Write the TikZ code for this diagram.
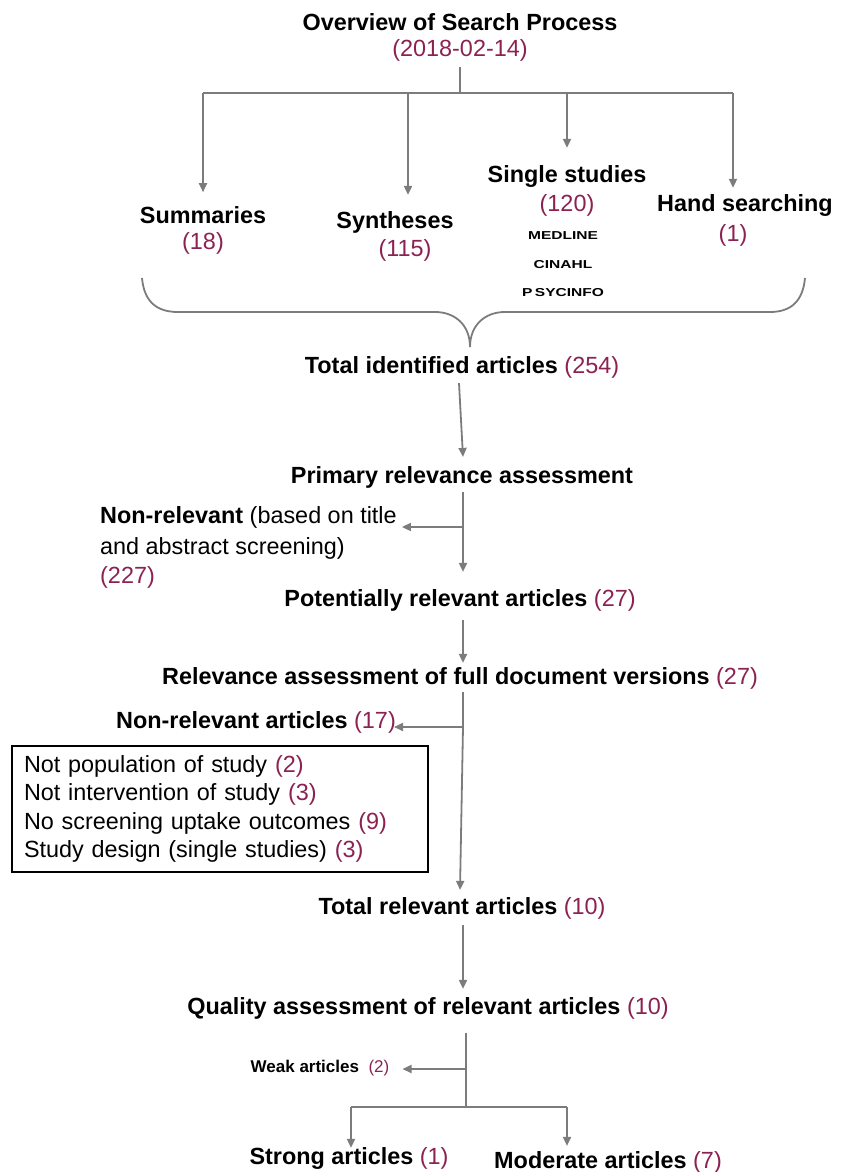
\documentclass[tikz,border=0pt]{standalone}
\usepackage{fontspec}
\setmainfont{Liberation Sans}
\usetikzlibrary{arrows.meta}
\definecolor{numc}{HTML}{8B2252}
\definecolor{lnc}{HTML}{7C7C7C}
\newcommand\nm[1]{\textcolor{numc}{\mdseries(#1)}}
\tikzset{
  hd/.style={inner sep=0pt, font=\fontsize{23.4}{28.5}\selectfont\bfseries},
  rg/.style={inner sep=0pt, font=\fontsize{23.4}{28.5}\selectfont},
  tiny/.style={inner sep=0pt, font=\fontsize{11.5}{13}\selectfont\bfseries},
  wk/.style={inner sep=0pt, font=\fontsize{17}{20}\selectfont\bfseries},
  conn/.style={draw=lnc, line width=1.8pt},
  arr/.style={conn, -{Triangle[length=9pt,width=8pt]}},
  ibox/.style={draw=black, line width=1.3pt, minimum width=416pt, minimum height=126pt,
     text width=392pt, align=left, inner xsep=12pt, inner ysep=0pt,
     font=\fontsize{23.4}{28.5}\selectfont},
}
\begin{document}
\begin{tikzpicture}[x=1pt,y=-1pt]
\useasboundingbox (0,0) rectangle (843,1172);

% top
\node[hd] (ov) at (460,22) {Overview of Search Process};
\node[hd] (date) at (460,50) {\nm{2018-02-14}};
\coordinate (hub) at (460,93);
\coordinate (h1) at (203,93);
\coordinate (h2) at (408,93);
\coordinate (h3) at (567,93);
\coordinate (h4) at (733,93);
\draw[conn] (date.south) ++(0,6) coordinate (dtop) (dtop) -- (hub);
\draw[conn] (h1) -- (h4);

\node[hd] (summ) at (203,215) {Summaries};
\node[hd] (n18) at (203,243) {\nm{18}};
\node[hd] (syn) at (395,222) {Syntheses};
\node[hd] (n115) at (405,250) {\nm{115}};
\node[hd] (sing) at (567,176) {Single studies};
\node[hd] (n120) at (567,205) {\nm{120}};
\node[tiny] (med) at (563,236) {\scalebox{1.35}[1]{MEDLINE}};
\node[tiny] (cin) at (563,265) {\scalebox{1.35}[1]{CINAHL}};
\node[tiny] (psy) at (563,293) {\scalebox{1.35}[1]{P\,SYCINFO}};
\node[hd] (hand) at (745,205) {Hand searching};
\node[hd] (n1) at (733,235) {\nm{1}};

\draw[arr] (h1) -- ([yshift=14pt]summ.north -| h1);
\draw[arr] (h2) -- ([yshift=16pt]syn.north -| h2);
\draw[arr] (h3) -- ([yshift=17pt]sing.north -| h3);
\draw[arr] (h4) -- ([yshift=6pt]hand.north -| h4);

% brace
\coordinate (bl) at (142,278);
\coordinate (br) at (805,278);
\coordinate (tip) at (470,347);
\draw[conn] (bl) .. controls (144,300) and (155,312) .. (178,312)
  -- (435,312) .. controls (455,312) and (470,325) .. (tip)
  .. controls (470,325) and (485,312) .. (505,312)
  -- (770,312) .. controls (792,312) and (803,300) .. (br);

\node[hd] (tot) at (462,367) {Total identified articles \nm{254}};
\node[hd] (prim) at (462,477) {Primary relevance assessment};
\draw[arr] ([xshift=-3pt,yshift=-5pt]tot.south) -- ([xshift=1pt,yshift=9pt]prim.north);

\node[hd, anchor=west] (nr1) at (100,517) {Non-relevant \mdseries(based on title};
\node[rg, anchor=west] (nr2) at (100,548) {and abstract screening)};
\node[hd, anchor=west] (nr3) at (100,577) {\nm{227}};

\node[hd] (pot) at (460,600) {Potentially relevant articles \nm{27}};
\coordinate (b1) at (463,527);
\draw[conn] (prim.south -| b1) ++(0,4) coordinate (p0) (p0) -- (b1);
\draw[arr] (b1) -- ([yshift=17pt]pot.north -| b1);
\draw[arr] (b1) -- ([xshift=5pt]nr1.east |- b1);

\node[hd] (rel) at (460,678) {Relevance assessment of full document versions \nm{27}};
\draw[arr] ([yshift=-9pt]pot.south -| b1) -- ([yshift=4pt]rel.north -| b1);

\node[hd] (nr17) at (256,722) {Non-relevant articles \nm{17}};
\node[ibox] (box) at (220,809) {Not population of study \nm{2}\\
Not intervention of study \nm{3}\\
No screening uptake outcomes \nm{9}\\
Study design (single studies) \nm{3}};

\node[hd] (totrel) at (462,908) {Total relevant articles \nm{10}};
\coordinate (b2) at (463,727);
\draw[conn] ([yshift=-3pt]rel.south -| b2) -- (b2);
\draw[arr] (b2) -- ([yshift=7pt]totrel.north -| 460,0);
\draw[arr] (b2) -- ([xshift=-2pt]nr17.east |- b2);

\node[hd] (qual) at (428,1008) {Quality assessment of relevant articles \nm{10}};
\draw[arr] ([yshift=-6pt]totrel.south -| b2) -- ([yshift=8pt]qual.north -| b2);

\node[wk] (weak) at (320,1068) {Weak articles \ \nm{2}};
\coordinate (b3) at (466,1069);
\coordinate (b4) at (466,1107);
\coordinate (sl) at (351,1107);
\coordinate (sr) at (567,1107);
\draw[conn] ([yshift=-14pt]qual.south -| b3) -- (b4);
\draw[conn] (sl) -- (sr);
\draw[arr] (b3) -- ([xshift=13pt]weak.east |- b3);

\node[hd] (strong) at (349,1158) {Strong articles \nm{1}};
\node[hd] (mod) at (608,1162) {Moderate articles \nm{7}};
\draw[arr] (sl) -- ([yshift=-1pt]strong.north -| sl);
\draw[arr] (sr) -- ([yshift=5pt]mod.north -| sr);
\end{tikzpicture}
\end{document}
